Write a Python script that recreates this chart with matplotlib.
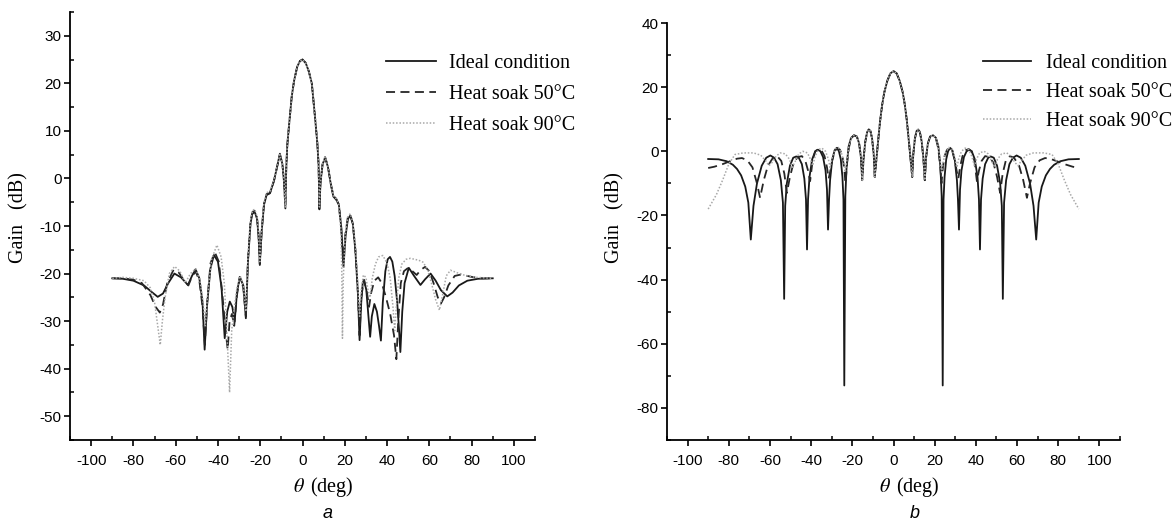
import numpy as np
import matplotlib
matplotlib.use("Agg")
import matplotlib.pyplot as plt
from matplotlib.ticker import MultipleLocator

plt.rcParams['mathtext.fontset'] = 'stix'
plt.rcParams['axes.unicode_minus'] = False

# ---- panel a: (theta deg, gain dB) ----
a_ideal = [(-90, -21), (-85, -21.1), (-80, -21.5), (-75, -22.5), (-71, -24), (-68.5, -24.9),
           (-66, -24.2), (-63.5, -22), (-60.6, -20), (-57.5, -20.8), (-54.2, -22.4), (-52.3, -20.5),
           (-50.6, -19.1), (-48.8, -21), (-47.3, -26), (-46.3, -36), (-45.2, -27), (-43.6, -19),
           (-41.9, -16.1), (-40, -17.5), (-38.3, -23), (-36.8, -33.6), (-35.6, -28), (-34.4, -25.9),
           (-33.2, -27), (-32.1, -30.1), (-31, -24), (-29.7, -20.7), (-28, -22.5), (-26.8, -29.4),
           (-25.8, -17.5), (-24.6, -9.5), (-23.8, -7.5), (-22.6, -7), (-21.5, -8.5), (-20.8, -12),
           (-20.2, -18.2), (-19.3, -11), (-18.2, -5.5), (-17, -3.5), (-15.4, -3.1), (-13.5, -0.5),
           (-12, 2.5), (-10.7, 5.2), (-9.5, 3), (-8.7, -1), (-8.1, -6.3), (-7.7, 2), (-7.2, 7),
           (-6.3, 11.5), (-5.1, 17.2), (-4, 20.5), (-2.5, 23.5), (-1.2, 24.7), (0, 25), (1.5, 24.3),
           (3, 22.5), (4.4, 20), (5.9, 13), (7, 7.5), (7.6, 3), (8.0, -6.5), (8.5, -1), (9.5, 3),
           (10.7, 4.3), (12, 2.5), (13.5, -1.5), (14.6, -3.8), (16, -4.5), (17.2, -5.5), (18.4, -10.5),
           (19.4, -18.6), (20.4, -12), (21.5, -8.5), (22.6, -7.8), (23.8, -9.5), (25, -15), (26.2, -24),
           (27, -34), (27.8, -26), (28.5, -22), (29.2, -21.4), (30.2, -23.5), (31.2, -29), (32, -33.3),
           (32.8, -29), (34, -26.4), (35.2, -28), (36.2, -31), (37.1, -34.1), (38, -26), (39.2, -19.5),
           (40.3, -17), (41.4, -16.5), (42.5, -17.5), (43.6, -20.5), (44.8, -26), (45.7, -32),
           (46.3, -36.5), (47.2, -28), (48.3, -22), (50.3, -18.8), (52.8, -20.5), (55.8, -22.4),
           (58, -21.2), (60.6, -20), (63, -21.5), (65.5, -23.5), (68.5, -24.8), (71, -24),
           (74, -22.5), (78, -21.5), (83, -21.1), (90, -21)]

a_50 = [(-90, -21), (-85, -21), (-80, -21.3), (-76, -22), (-72, -24.5), (-69.5, -27), (-67.5, -28.2),
        (-66, -26.5), (-64, -22), (-61, -19.2), (-58.5, -19.8), (-56, -21.5), (-54, -22.5),
        (-52.2, -20.5), (-50.5, -19.6), (-48.8, -21.5), (-47.3, -27), (-46.2, -35), (-45.1, -26),
        (-43.5, -17.8), (-41.5, -15.5), (-39.6, -17.5), (-38, -24), (-36.6, -31), (-35.4, -36),
        (-34.5, -30), (-33.4, -28.5), (-32.3, -31), (-31, -24.5), (-29.6, -20.8), (-28, -23),
        (-26.8, -29), (-25.8, -17), (-24.6, -9), (-23.6, -7), (-22.6, -6.8), (-21.5, -8.3),
        (-20.8, -12), (-20.2, -18), (-19.3, -11), (-18.2, -5.3), (-17, -3.3), (-15.4, -3.1),
        (-13.5, -0.5), (-12, 2.5), (-10.7, 5), (-9.5, 3), (-8.7, -1), (-8.1, -6), (-7.7, 2),
        (-7.2, 7), (-6.3, 11.5), (-5.1, 17.2), (-4, 20.5), (-2.5, 23.5), (-1.2, 24.7), (0, 25),
        (1.5, 24.3), (3, 22.5), (4.4, 20), (5.9, 13), (7, 7.5), (7.6, 3), (8.0, -6), (8.5, -1),
        (9.5, 3), (10.7, 4.5), (12, 2.6), (13.5, -1.3), (14.6, -3.6), (16, -4.3), (17.2, -5.5),
        (18.3, -10.5), (19.2, -17.5), (20.2, -12), (21.4, -8.3), (22.6, -7.6), (23.8, -9.5),
        (25, -15), (26.2, -24), (27, -33), (27.8, -25), (29, -21.3), (30.5, -24), (31.5, -27),
        (32.5, -24), (34, -21.5), (35.8, -20.8), (37.5, -22), (39.5, -25), (41.5, -28.5),
        (43.3, -33), (44.4, -38), (45.3, -30), (46.5, -22), (48, -19.5), (50, -18.8), (52, -19.5),
        (54, -20.3), (56, -19.2), (58, -18.6), (60, -19.5), (62, -22), (64, -25), (65.5, -26.3),
        (67, -25), (69, -22.5), (72, -20.5), (75, -20.2), (80, -20.7), (85, -21), (90, -21)]

a_90 = [(-90, -21), (-85, -20.8), (-80, -21), (-75, -21.5), (-72, -23), (-70, -26), (-68.5, -31),
        (-67.3, -35), (-66.3, -30), (-65, -25), (-63, -20), (-60.5, -18.5), (-58, -19.5),
        (-55.5, -22), (-53, -20), (-50.5, -19), (-48.5, -21.5), (-47, -26), (-46, -31), (-45, -25),
        (-43, -17), (-40.5, -14), (-38.5, -16.5), (-37, -22), (-35.8, -32), (-34.5, -45),
        (-33.5, -32), (-32.5, -28), (-31, -23), (-29.5, -20.5), (-28, -22.5), (-26.8, -28),
        (-25.8, -16.5), (-24.6, -8.7), (-23.6, -6.7), (-22.6, -6.5), (-21.5, -8), (-20.8, -11.5),
        (-20.2, -17.5), (-19.3, -10.5), (-18.2, -5), (-17, -3), (-15.4, -2.7), (-13.5, -0.3),
        (-12, 2.7), (-10.7, 5), (-9.5, 3), (-8.7, -1), (-8.1, -6), (-7.7, 2), (-7.2, 7),
        (-6.3, 11.5), (-5.1, 17.2), (-4, 20.5), (-2.5, 23.5), (-1.2, 24.7), (0, 25), (1.5, 24.3),
        (3, 22.5), (4.4, 20), (5.9, 13), (7, 7.5), (7.6, 3), (8.0, -6), (8.5, -1), (9.5, 3),
        (10.7, 4.5), (12, 2.6), (13.5, -1.3), (14.6, -3.6), (16, -4.3), (17.2, -5.5), (18.2, -11),
        (18.6, -20), (18.9, -33.6), (19.3, -21), (20.2, -12), (21.4, -8.1), (22.6, -7.4),
        (23.8, -9.2), (25, -14), (26, -21), (27, -29), (27.8, -23.5), (28.8, -20.3), (30, -20.8),
        (31, -23.5), (32, -25), (33, -21), (34.5, -18), (36, -16.5), (38, -16.2), (40, -17.8),
        (41.5, -21), (42.8, -27), (43.6, -32), (44.4, -27), (45.5, -21), (47, -18), (49, -17),
        (51, -16.8), (53, -17), (55, -17.2), (57, -17.6), (59, -19), (61, -22), (63, -25.5),
        (64.8, -27.7), (66.5, -24), (68, -20.5), (70, -19.3), (73, -19.8), (77, -20.4),
        (82, -20.8), (90, -21)]

b_ideal_half = [(0, 25), (1.5, 24.3), (3, 22), (4.5, 18.3), (5.5, 14.5), (6.5, 9.5), (7.5, 3),
                (8.3, -2.5), (9.1, -8), (9.6, -1), (10.4, 4), (11.2, 6.3), (12, 6.8), (12.8, 6),
                (13.7, 3), (14.5, -2), (15.2, -9), (15.8, -2), (16.7, 2.5), (17.8, 4.6), (19.2, 5),
                (20.6, 4.2), (21.8, 1.5), (22.8, -5), (23.4, -14), (23.9, -73), (24.3, -15),
                (24.8, -8), (25.6, -2.5), (26.5, 0), (27.5, 1.1), (28.6, 0.3), (29.8, -2.8),
                (30.8, -9), (31.3, -15), (31.8, -24.4), (32.3, -12), (33, -6), (34.2, -1.8),
                (35.5, 0), (36.7, 0.5), (38, 0), (39.5, -2.5), (40.8, -8), (41.5, -15), (42, -30.6),
                (42.5, -15), (43.3, -8.5), (44.5, -4), (46, -2), (47.2, -1.6), (48.7, -2),
                (50.3, -4.5), (51.8, -10), (52.6, -17), (53.1, -46), (53.7, -16), (54.7, -9),
                (56.3, -4), (58, -2), (59.8, -1.3), (61.8, -2), (64, -4.5), (66.3, -10), (68, -17),
                (69.3, -27.5), (70.5, -16), (72, -11), (74, -7.5), (76, -5.5), (78, -4.2),
                (81, -3.1), (85, -2.5), (90, -2.4)]

b_50_half = [(0, 25), (1.5, 24.3), (3, 22), (4.5, 18.3), (5.5, 14.5), (6.5, 9.5), (7.5, 3),
             (8.3, -2.5), (9.1, -8), (9.6, -1), (10.4, 4), (11.2, 6.3), (12, 6.8), (12.8, 6),
             (13.7, 3), (14.5, -2), (15.2, -9), (15.8, -2), (16.7, 2.5), (17.8, 4.6), (19.2, 5),
             (20.6, 4), (21.7, 1), (22.6, -4), (23.3, -10), (24, -5), (24.8, -1.5), (26, 0.5),
             (27.3, 1), (28.6, 0), (29.8, -3), (30.8, -6.5), (31.5, -8.5), (32.3, -5), (33.5, -1.5),
             (35, 0.3), (36.5, 0.7), (38, 0), (39.3, -3), (40.5, -9.3), (41.5, -6), (42.8, -3),
             (44.5, -1.5), (46.5, -1.8), (48.5, -3.5), (50.3, -8), (51.8, -13), (53, -7),
             (54.5, -3), (56.5, -1.5), (58.5, -2), (61, -4.5), (63, -9), (64.8, -14.5), (66.3, -10),
             (68.5, -5), (71, -2.8), (73.6, -2.1), (76, -2.3), (79, -3), (83, -4), (87, -4.8),
             (90, -5.2)]

b_90_half = [(0, 25), (1.5, 24.3), (3, 22), (4.5, 18.3), (5.5, 14.5), (6.5, 9.5), (7.5, 3),
             (8.3, -2.5), (9.1, -8), (9.6, -1), (10.4, 4), (11.2, 6.3), (12, 6.8), (12.8, 6),
             (13.7, 3), (14.5, -2), (15.2, -9), (15.8, -2), (16.7, 2.5), (17.8, 4.6), (19.2, 5),
             (20.6, 4.2), (21.7, 1.5), (22.7, -3), (23.4, -6.5), (24.2, -3), (25.3, -0.5),
             (26.8, 1.2), (28.3, 0.8), (29.6, -1.5), (30.8, -5), (31.6, -2.5), (33, 0), (34.8, 1),
             (36.5, 0.5), (38, -1.5), (39.3, -4.5), (40.3, -2.5), (41.8, -0.5), (44, 0),
             (46, -0.8), (48, -3.5), (49.2, -5), (50.5, -2.5), (52.5, -0.8), (55, -0.5),
             (57, -1.5), (59, -3.5), (60.5, -4.5), (62, -3), (64.5, -1.2), (68, -0.5), (73, -0.5),
             (77, -1), (80, -4), (83, -9), (86, -13.5), (90, -18)]

labels = ['Ideal condition', 'Heat soak 50°C', 'Heat soak 90°C']


def split(pairs):
    arr = np.array(pairs, dtype=float)
    return arr[:, 0], arr[:, 1]


def mirror(pairs):
    t, g = split(pairs)
    return np.concatenate([-t[:0:-1], t]), np.concatenate([g[:0:-1], g])


styles = [dict(color='#181818', lw=1.3, ls='-'),
          dict(color='#262626', lw=1.3, ls=(0, (5, 3))),
          dict(color='#a8a8a8', lw=1.1, ls=(0, (1, 1.2)))]

serif = 'Liberation Serif'
sans = 'Liberation Sans'

fig = plt.figure(figsize=(11.75, 5.27), dpi=100)
W, H = 1175, 527

ax_a = fig.add_axes([70 / W, 1 - 440 / H, 465 / W, 428 / H])
ax_b = fig.add_axes([667 / W, 1 - 440 / H, 453 / W, 417 / H])

for (t, g), st, lab in zip([split(a_ideal), split(a_50), split(a_90)], styles, labels):
    ax_a.plot(t, g, label=lab, **st)
for (t, g), st, lab in zip([mirror(b_ideal_half), mirror(b_50_half), mirror(b_90_half)], styles, labels):
    ax_b.plot(t, g, label=lab, **st)

ax_a.set_xlim(-110, 110)
ax_a.set_ylim(-55, 35)
ax_a.set_yticks(np.arange(-50, 31, 10))
ax_a.yaxis.set_minor_locator(MultipleLocator(5))

ax_b.set_xlim(-110, 110)
ax_b.set_ylim(-90, 40)
ax_b.set_yticks(np.arange(-80, 41, 20))
ax_b.yaxis.set_minor_locator(MultipleLocator(10))

for ax in (ax_a, ax_b):
    ax.set_xticks(np.arange(-100, 101, 20))
    ax.xaxis.set_minor_locator(MultipleLocator(10))
    ax.spines['top'].set_visible(False)
    ax.spines['right'].set_visible(False)
    for s in ('left', 'bottom'):
        ax.spines[s].set_linewidth(1.3)
    ax.tick_params(which='major', direction='out', length=4, width=1.2, labelsize=11)
    ax.tick_params(which='minor', direction='in', length=3, width=1.1)
    ax.tick_params(axis='x', which='major', pad=6)
    ax.tick_params(axis='y', which='major', pad=2)
    for lbl in ax.get_xticklabels() + ax.get_yticklabels():
        lbl.set_fontfamily(sans)

ax_a.legend(loc='upper left', bbox_to_anchor=(386 / W, 1 - 54 / H),
            bbox_transform=fig.transFigure, frameon=False, borderpad=0,
            borderaxespad=0, handlelength=2.5, handletextpad=0.65, labelspacing=0.6,
            prop={'family': serif, 'size': 14.5})
ax_b.legend(loc='upper left', bbox_to_anchor=(983 / W, 1 - 54 / H),
            bbox_transform=fig.transFigure, frameon=False, borderpad=0,
            borderaxespad=0, handlelength=2.4, handletextpad=0.75, labelspacing=0.5,
            prop={'family': serif, 'size': 14.5})

for x in (19, 615):
    fig.text(x / W, 1 - 218 / H, 'Gain   (dB)', rotation=90, ha='center', va='center',
             family=serif, fontsize=14.5)
for x in (323, 909):
    fig.text(x / W, 1 - 487 / H, r'$\theta$ $\,$(deg)', ha='center', va='center',
             family=serif, fontsize=14.5)
fig.text(328 / W, 1 - 514 / H, 'a', ha='center', va='center', family=sans,
         style='italic', fontsize=13)
fig.text(915 / W, 1 - 514 / H, 'b', ha='center', va='center', family=sans,
         style='italic', fontsize=13)

fig.savefig('out.png', dpi=100)
